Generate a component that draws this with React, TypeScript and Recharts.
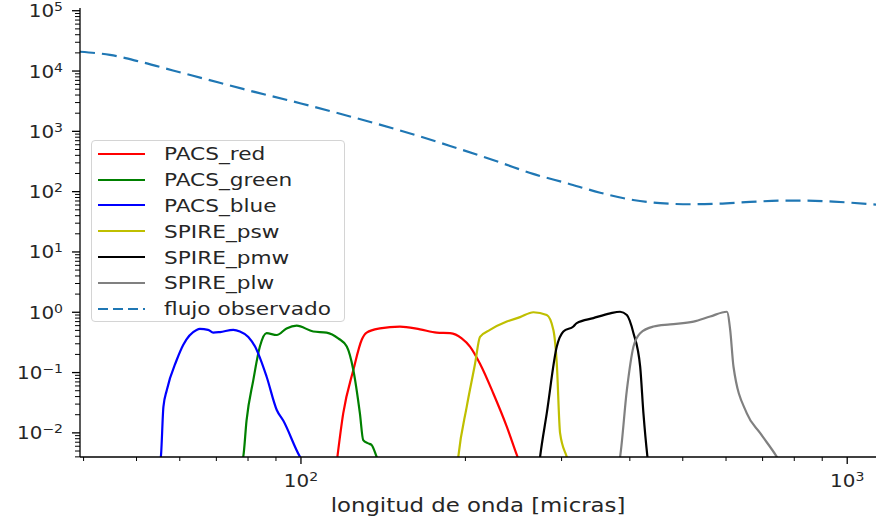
import { LineChart, Line, XAxis, YAxis, Legend } from "recharts";

// [wavelength (micras), value]
const pacsRed = [
  [116.6, 0.004], [119.5, 0.021], [124.7, 0.11], [129.2, 0.35], [131.9, 0.46],
  [139.5, 0.54], [151.8, 0.58], [165.2, 0.52], [177.2, 0.46], [187.5, 0.45],
  [196.9, 0.37], [203.9, 0.27], [212.7, 0.14], [225.0, 0.045], [238.1, 0.0127],
  [248.4, 0.0043], [250.5, 0.0035],
];
const pacsGreen = [
  [78.0, 0.0035], [78.4, 0.004], [79.5, 0.016], [81.8, 0.075], [84.1, 0.27], [86.5, 0.45],
  [90.3, 0.42], [94.1, 0.54], [98.2, 0.6], [105.3, 0.48], [111.4, 0.46],
  [117.0, 0.37], [121.3, 0.27], [124.7, 0.11], [128.2, 0.021], [130.0, 0.0076],
  [132.8, 0.0067], [134.7, 0.0063], [137.6, 0.004], [138.5, 0.0035],
];
const pacsBlue = [
  [55.2, 0.0035], [55.4, 0.004], [56.0, 0.027], [56.8, 0.051], [59.2, 0.16], [60.9, 0.29],
  [64.4, 0.51], [65.3, 0.53], [67.6, 0.51], [69.1, 0.46], [71.1, 0.47],
  [75.2, 0.51], [77.3, 0.48], [80.1, 0.39], [82.4, 0.27], [86.5, 0.086],
  [90.3, 0.024], [92.8, 0.016], [99.6, 0.004], [100.5, 0.0035],
];
const spirePsw = [
  [193.8, 0.0035], [194.1, 0.004], [201.1, 0.027], [208.3, 0.14], [212.7, 0.39], [221.8, 0.51],
  [238.1, 0.7], [251.8, 0.83], [266.4, 1.0], [281.8, 0.9], [289.8, 0.51],
  [294.0, 0.14], [298.1, 0.0099], [306.6, 0.004], [308.0, 0.0035],
];
const spirePmw = [
  [273.5, 0.0035], [274.0, 0.004], [281.8, 0.021], [294.0, 0.27], [302.3, 0.48], [315.3, 0.58],
  [319.8, 0.66], [343.0, 0.8], [368.2, 0.96], [383.9, 1.02], [395.0, 0.9],
  [406.2, 0.45], [417.8, 0.125], [423.6, 0.021], [430.8, 0.004], [431.5, 0.0035],
];
const spirePlw = [
  [383.0, 0.0035], [383.9, 0.004], [395.0, 0.051], [406.2, 0.27], [417.8, 0.45], [441.8, 0.58],
  [474.1, 0.63], [523.2, 0.7], [561.2, 0.85], [602.2, 1.02], [610.6, 0.51],
  [619.2, 0.125], [655.0, 0.021], [693.0, 0.0099], [743.3, 0.004], [750.0, 0.0035],
];
const flujo = [
  [39.4, 20900], [44.7, 18500], [50.7, 14300], [58.3, 10230], [67.3, 7260],
  [78.3, 5050], [100.0, 2900], [123.0, 1766], [151.8, 1035], [187.5, 573],
  [231.5, 305], [266.0, 197], [307.0, 138], [353.0, 96], [405.5, 72.8],
  [454.5, 64.3], [516.0, 61.8], [578.0, 63.2], [664.0, 67.5], [763.0, 70.9],
  [845.0, 70.9], [943.0, 68.3], [1129.0, 61.0],
];

const seriesNames = ["PACS_red", "PACS_green", "PACS_blue", "SPIRE_psw", "SPIRE_pmw", "SPIRE_plw", "flujo observado"];
const seriesData = [pacsRed, pacsGreen, pacsBlue, spirePsw, spirePmw, spirePlw, flujo];
const seriesColors = ["#ff0000", "#008000", "#0000ff", "#bfbf00", "#000000", "#808080", "#1f77b4"];

const xTicks = [40, 50, 60, 70, 80, 90, 100, 200, 300, 400, 500, 600, 700, 800, 900, 1000];
const xDomain = [39.4, 1129];
const yDomain = [0.00398, 111000];
const yDecades = [-3, -2, -1, 0, 1, 2, 3, 4, 5];
const yTicks = yDecades
  .flatMap((d) => [1, 2, 3, 4, 5, 6, 7, 8, 9].map((m) => m * Math.pow(10, d)))
  .filter((v) => v >= yDomain[0] && v <= yDomain[1]);

const FONT = "DejaVu Sans, sans-serif";
const TEXT = "#262626";
const STRETCH = 1.17; // the reference text is a little wider than tall

function expLabel(v: number) {
  const e = Math.round(Math.log10(v));
  return e < 0 ? "\u2212" + Math.abs(e) : String(e);
}
function isMajor(v: number) {
  const l = Math.log10(v);
  return Math.abs(l - Math.round(l)) < 1e-9;
}

function PowerText({ x, y, v, anchor }: { x: number; y: number; v: number; anchor: "end" | "middle" }) {
  return (
    <g transform={`translate(${x},${y}) scale(${STRETCH},1)`}>
      <text x={0} y={0} textAnchor={anchor} fontFamily={FONT} fontSize={17} fill={TEXT}>
        <tspan>10</tspan>
        <tspan dy={-6} fontSize={12}>{expLabel(v)}</tspan>
      </text>
    </g>
  );
}

function XTick(props: any) {
  const { x, y, payload } = props;
  const major = isMajor(payload.value);
  return (
    <g>
      <line x1={x} x2={x} y1={y} y2={y + (major ? 7 : 4)} stroke="#000" strokeWidth={major ? 1.3 : 1} />
      {major && <PowerText x={x} y={y + 30} v={payload.value} anchor="middle" />}
    </g>
  );
}

function YTick(props: any) {
  const { x, y, payload } = props;
  const major = isMajor(payload.value);
  return (
    <g>
      <line x1={x - (major ? 8 : 5)} x2={x} y1={y} y2={y} stroke="#000" strokeWidth={major ? 1.3 : 1} />
      {major && <PowerText x={x - 17} y={y + 6.5} v={payload.value} anchor="end" />}
    </g>
  );
}

function LegendBox() {
  return (
    <div
      style={{
        width: 252,
        height: 180,
        border: "1px solid #d4d4d4",
        borderRadius: 4,
        background: "rgba(255,255,255,0.85)",
        fontFamily: FONT,
        fontSize: 18.5,
        color: TEXT,
      }}
    >
      {seriesNames.map((n, i) => (
        <div key={n} style={{ height: 25.8, display: "flex", alignItems: "center" }}>
          <svg width={72} height={10} style={{ flex: "none" }}>
            <line
              x1={6}
              x2={53}
              y1={5}
              y2={5}
              stroke={seriesColors[i]}
              strokeWidth={2.2}
              strokeDasharray={i === 6 ? "10 5" : undefined}
            />
          </svg>
          <span
            style={{
              whiteSpace: "nowrap",
              display: "inline-block",
              transform: `scaleX(${STRETCH})`,
              transformOrigin: "left center",
            }}
          >
            {n}
          </span>
        </div>
      ))}
    </div>
  );
}

export default function App() {
  return (
    <div style={{ position: "absolute", left: 0, top: 0, width: 876, height: 519, background: "#fff" }}>
      <LineChart width={876} height={519} margin={{ top: 8, right: 0, bottom: 0, left: 0 }}>
        <XAxis
          type="number"
          dataKey="x"
          scale="log"
          domain={xDomain}
          allowDataOverflow
          ticks={xTicks}
          interval={0}
          tickSize={0}
          tickMargin={0}
          tick={<XTick />}
          height={62}
          axisLine={{ stroke: "#000", strokeWidth: 1.3 }}
          label={{
            content: (p: any) => {
              const vb = p.viewBox;
              return (
                <g transform={`translate(${vb.x + vb.width / 2},${vb.y + 55}) scale(${STRETCH},1)`}>
                  <text x={0} y={0} textAnchor="middle" fontFamily={FONT} fontSize={19.5} fill={TEXT}>
                    longitud de onda [micras]
                  </text>
                </g>
              );
            },
          }}
        />
        <YAxis
          type="number"
          dataKey="y"
          scale="log"
          domain={yDomain}
          allowDataOverflow
          ticks={yTicks}
          interval={0}
          tickSize={0}
          tickMargin={0}
          tick={<YTick />}
          width={80}
          axisLine={{ stroke: "#000", strokeWidth: 1.3 }}
        />
        <Legend
          layout="vertical"
          align="center"
          verticalAlign="middle"
          wrapperStyle={{ left: 91, top: 140, width: 254, height: 182 }}
          content={() => <LegendBox />}
        />
        {seriesData.map((d, i) => (
          <Line
            key={seriesNames[i]}
            name={seriesNames[i]}
            data={d.map(([x, y]) => ({ x, y }))}
            dataKey="y"
            type="monotone"
            stroke={seriesColors[i]}
            strokeWidth={2.2}
            strokeDasharray={i === 6 ? "15 7" : undefined}
            dot={false}
            activeDot={false}
            isAnimationActive={false}
          />
        ))}
      </LineChart>
    </div>
  );
}
